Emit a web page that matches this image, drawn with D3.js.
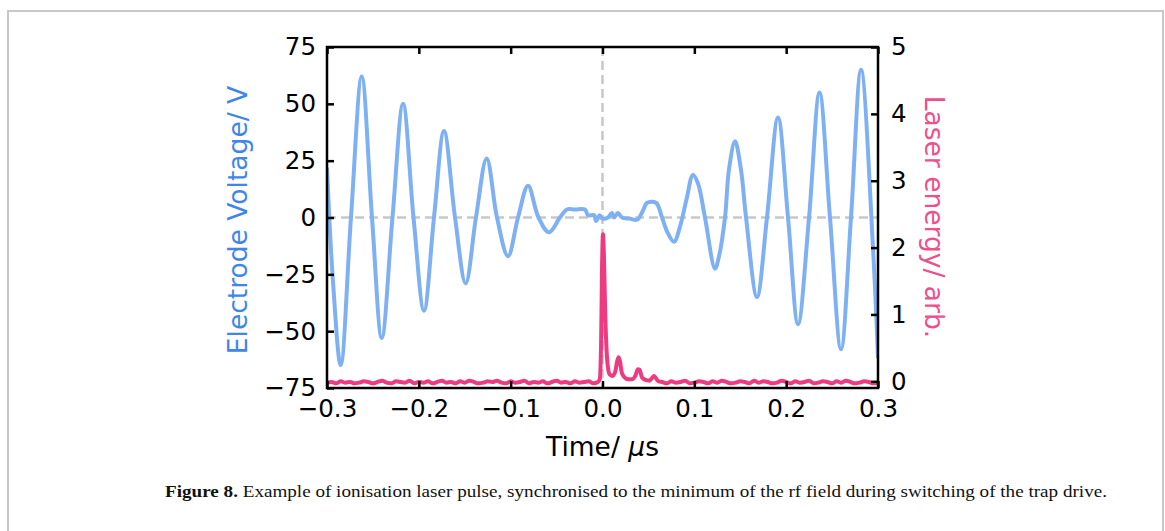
<!DOCTYPE html>
<html>
<head>
<meta charset="utf-8">
<script src="https://cdn.jsdelivr.net/npm/d3@7"></script>
<style>
  body { margin: 0; background: #fff; }
</style>
</head>
<body>
<div id="chart"></div>
<script>
// values: time in µs
// electrode voltage (V) – extremes, zero crossings and the flat middle part
const voltTime = [
  -0.300, -0.2935, -0.2851, -0.2739, -0.2622, -0.2510, -0.2404, -0.2287, -0.2172,
  -0.2058, -0.1944, -0.1835, -0.1726, -0.1606, -0.1490, -0.1378, -0.1261, -0.1149,
  -0.1029, -0.0920, -0.0811, -0.0697, -0.0583, -0.0463, -0.0387, -0.0300, -0.0191,
  -0.0158, -0.0090, -0.0070, -0.0030, 0.0000, 0.0060, 0.0103, 0.0125, 0.0169,
  0.0212, 0.0300, 0.0376, 0.0440, 0.0485, 0.0583, 0.0648, 0.0713, 0.0779, 0.0844,
  0.0915, 0.0985, 0.1040, 0.1116, 0.1225, 0.1269, 0.1334, 0.1377, 0.1443, 0.1508,
  0.1563, 0.1682, 0.1791, 0.1911, 0.2020, 0.2129, 0.2249, 0.2363, 0.2477, 0.2597,
  0.2706, 0.2815, 0.2945, 0.3000
];
const voltValue = [
  22, -28, -65, 0, 62, 0, -53, 0, 50,
  0, -41, 0, 38, 0, -29, 0, 26, 0,
  -17, 0, 14, 0, -6.5, 0, 3.5, 3.5, 3.5,
  1, 1, -1.5, 1, -0.5, 0, 2, 0, 2,
  0, -0.5, -1, 3, 6.5, 6.5, 0, -7, -10.7, -4,
  8, 18.7, 15, 0, -22.5, -17, 0, 21, 33.5, 21,
  0, -35, 0, 44, 0, -47, 0, 55, 0, -58,
  0, 65, -13, -62
];

// laser energy (arb.) – noisy baseline, main pulse at t = 0 and its ringing
const laserTime = [
  -0.300, -0.295, -0.290, -0.285, -0.280, -0.275, -0.270, -0.265, -0.260, -0.255,
  -0.250, -0.245, -0.240, -0.235, -0.230, -0.225, -0.220, -0.215, -0.210, -0.205,
  -0.200, -0.195, -0.190, -0.185, -0.180, -0.175, -0.170, -0.165, -0.160, -0.155,
  -0.150, -0.145, -0.140, -0.135, -0.130, -0.125, -0.120, -0.115, -0.110, -0.105,
  -0.100, -0.095, -0.090, -0.085, -0.080, -0.075, -0.070, -0.065, -0.060, -0.055,
  -0.050, -0.045, -0.040, -0.035, -0.030, -0.025, -0.020, -0.015, -0.010, -0.005,
  -0.0030, -0.0015, -0.0005, 0.0005, 0.0015, 0.0030, 0.0045, 0.0060, 0.0080, 0.0110,
  0.0140, 0.0160, 0.0175, 0.0190, 0.0210, 0.0240, 0.0280, 0.0320, 0.0360, 0.0385,
  0.0405, 0.0430, 0.0470, 0.0510, 0.0540, 0.0560, 0.0580, 0.0610,
  0.065, 0.070, 0.075, 0.080, 0.085, 0.090, 0.095, 0.100, 0.105, 0.110,
  0.115, 0.120, 0.125, 0.130, 0.135, 0.140, 0.145, 0.150, 0.155, 0.160,
  0.165, 0.170, 0.175, 0.180, 0.185, 0.190, 0.195, 0.200, 0.205, 0.210,
  0.215, 0.220, 0.225, 0.230, 0.235, 0.240, 0.245, 0.250, 0.255, 0.260,
  0.265, 0.270, 0.275, 0.280, 0.285, 0.290, 0.295, 0.300
];
const laserEnergy = [
  -0.02, -0.01, -0.03, 0.00, -0.02, -0.01, -0.03, -0.02, 0.00, -0.01,
  -0.03, -0.01, 0.01, -0.02, -0.03, 0.00, -0.01, -0.02, 0.01, -0.03,
  -0.01, -0.02, 0.00, -0.03, -0.01, 0.01, -0.02, -0.01, -0.03, 0.00,
  -0.02, 0.01, -0.01, -0.03, -0.02, 0.00, -0.01, 0.01, -0.02, -0.03,
  0.00, -0.02, -0.01, 0.01, -0.03, -0.01, -0.02, 0.00, -0.03, -0.01,
  0.01, -0.02, -0.01, -0.03, 0.00, -0.02, -0.01, 0.00, -0.03, -0.01,
  0.03, 0.60, 1.70, 2.20, 1.90, 1.00, 0.45, 0.20, 0.10, 0.08,
  0.15, 0.30, 0.36, 0.30, 0.13, 0.06, 0.03, 0.03, 0.09, 0.18,
  0.17, 0.06, 0.02, 0.01, 0.05, 0.08, 0.05, 0.00,
  -0.01, -0.03, 0.00, -0.02, -0.01, 0.01, -0.03, -0.02, 0.00, -0.01,
  -0.03, 0.00, -0.02, 0.01, -0.01, -0.03, -0.02, 0.00, -0.01, -0.03,
  0.01, -0.02, 0.00, -0.01, -0.03, -0.02, 0.01, -0.01, -0.03, 0.00,
  -0.02, -0.01, 0.01, -0.03, -0.02, 0.00, -0.01, -0.03, 0.00, -0.02,
  0.01, -0.01, -0.03, -0.02, 0.00, -0.01, -0.03, -0.02
];

const xTicks = [-0.3, -0.2, -0.1, 0.0, 0.1, 0.2, 0.3];
const voltTicks = [-75, -50, -25, 0, 25, 50, 75];
const laserTicks = [0, 1, 2, 3, 4, 5];

const W = 1165, H = 531;
const margin = { top: 47, right: 287, bottom: 143, left: 327 };
const innerW = W - margin.left - margin.right;
const innerH = H - margin.top - margin.bottom;

const blue = "#7eb0f4";
const blueLabel = "#3f86e8";
const pink = "#ee3a7f";
const pinkLabel = "#ef4f8c";
const axisFont = "'DejaVu Sans', sans-serif";

const svg = d3.select("#chart").append("svg")
  .attr("width", W)
  .attr("height", H)
  .style("background", "#fff");

// outer frame of the figure box
svg.append("rect")
  .attr("x", 8).attr("y", 11)
  .attr("width", 1155).attr("height", 540)
  .attr("fill", "none")
  .attr("stroke", "#c8c8c8")
  .attr("stroke-width", 2);

const g = svg.append("g")
  .attr("transform", `translate(${margin.left},${margin.top})`);

const x = d3.scaleLinear().domain([-0.3, 0.3]).range([0, innerW]);
const yV = d3.scaleLinear().domain([-75, 75]).range([innerH, 0]);
const yL = d3.scaleLinear().domain([-0.1, 5]).range([innerH, 0]);

// dashed zero lines
g.append("line")
  .attr("x1", 0).attr("x2", innerW)
  .attr("y1", yV(0)).attr("y2", yV(0))
  .attr("stroke", "#c8c8c8").attr("stroke-width", 2.5)
  .attr("stroke-dasharray", "9,5");
g.append("line")
  .attr("x1", x(0)).attr("x2", x(0))
  .attr("y1", 0).attr("y2", innerH)
  .attr("stroke", "#c8c8c8").attr("stroke-width", 2.5)
  .attr("stroke-dasharray", "9,5");

const clipId = "plot-clip";
svg.append("defs").append("clipPath")
  .attr("id", clipId)
  .append("rect")
  .attr("width", innerW)
  .attr("height", innerH);

const lines = g.append("g").attr("clip-path", `url(#${clipId})`);

const voltLine = d3.line()
  .x((d, i) => x(voltTime[i]))
  .y(d => yV(d))
  .curve(d3.curveCatmullRom.alpha(0.5));

lines.append("path")
  .datum(voltValue)
  .attr("fill", "none")
  .attr("stroke", blue)
  .attr("stroke-width", 4)
  .attr("stroke-linejoin", "round")
  .attr("d", voltLine);

const laserLine = d3.line()
  .x((d, i) => x(laserTime[i]))
  .y(d => yL(d))
  .curve(d3.curveMonotoneX);

lines.append("path")
  .datum(laserEnergy)
  .attr("fill", "none")
  .attr("stroke", pink)
  .attr("stroke-width", 4)
  .attr("stroke-linejoin", "round")
  .attr("d", laserLine);

// axes – ticks point into the plot
const fmtX = d3.format(".1f");
const fmtV = d3.format("d");

const xAxisG = g.append("g")
  .attr("transform", `translate(0,${innerH})`)
  .call(d3.axisBottom(x).tickValues(xTicks).tickFormat(fmtX).tickSize(-7).tickPadding(12));
const xTopG = g.append("g")
  .call(d3.axisTop(x).tickValues(xTicks).tickFormat("").tickSize(-7));
const yLeftG = g.append("g")
  .call(d3.axisLeft(yV).tickValues(voltTicks).tickFormat(fmtV).tickSize(-7).tickPadding(11));
const yRightG = g.append("g")
  .attr("transform", `translate(${innerW},0)`)
  .call(d3.axisRight(yL).tickValues(laserTicks).tickFormat(d3.format("d")).tickSize(-7).tickPadding(13));

[xAxisG, xTopG, yLeftG, yRightG].forEach(a => {
  a.select(".domain").remove();
  a.selectAll(".tick line").attr("stroke", "#000").attr("stroke-width", 2.5);
  a.selectAll(".tick text")
    .attr("fill", "#000")
    .style("font-family", axisFont)
    .style("font-size", "24.5px");
});
xAxisG.selectAll(".tick text").attr("dy", "0.71em");

// spines
g.append("rect")
  .attr("width", innerW)
  .attr("height", innerH)
  .attr("fill", "none")
  .attr("stroke", "#000")
  .attr("stroke-width", 2.5);

// axis titles
svg.append("text")
  .attr("transform", `translate(247,220) rotate(-90)`)
  .attr("text-anchor", "middle")
  .attr("fill", blueLabel)
  .style("font-family", axisFont)
  .style("font-size", "26.5px")
  .text("Electrode Voltage/ V");

svg.append("text")
  .attr("transform", `translate(925,217) rotate(90)`)
  .attr("text-anchor", "middle")
  .attr("fill", pinkLabel)
  .style("font-family", axisFont)
  .style("font-size", "26.5px")
  .text("Laser energy/ arb.");

const xTitle = svg.append("text")
  .attr("x", margin.left + innerW / 2)
  .attr("y", 456)
  .attr("text-anchor", "middle")
  .attr("fill", "#000")
  .style("font-family", axisFont)
  .style("font-size", "26.5px");
xTitle.append("tspan").text("Time/ ");
xTitle.append("tspan").style("font-style", "italic").text("\u03bc");
xTitle.append("tspan").text("s");

// caption
const caption = svg.append("text")
  .attr("x", 165)
  .attr("y", 497)
  .attr("fill", "#111")
  .style("font-family", "'Liberation Serif', 'DejaVu Serif', serif")
  .style("font-size", "17px");
caption.append("tspan").style("font-weight", "bold").text("Figure 8.");
caption.append("tspan").text(" Example of ionisation laser pulse, synchronised to the minimum of the rf field during switching of the trap drive.");
caption.attr("textLength", 1107 - 165).attr("lengthAdjust", "spacingAndGlyphs");
</script>
</body>
</html>
